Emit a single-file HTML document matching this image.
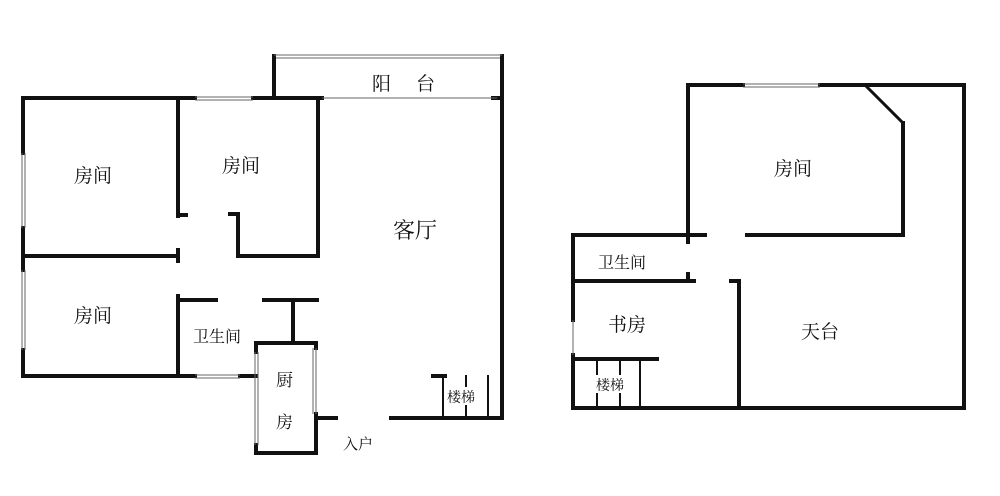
<!DOCTYPE html>
<html><head><meta charset="utf-8"><style>
html,body{margin:0;padding:0;background:#fff;width:1000px;height:496px;overflow:hidden}
svg{display:block}
text{font-family:"Liberation Serif","Noto Serif CJK SC","Noto Sans CJK SC",serif;fill:#111}
</style></head><body>
<svg width="1000" height="496" viewBox="0 0 1000 496">
<g stroke="#111" stroke-width="4" fill="none" stroke-linecap="square">
<line x1="23" y1="98" x2="195" y2="98"/>
<line x1="253" y1="98" x2="322" y2="98"/>
<line x1="274" y1="56" x2="274" y2="98"/>
<line x1="502" y1="56" x2="502" y2="418"/>
<line x1="493" y1="98" x2="502" y2="98"/>
<line x1="23" y1="98" x2="23" y2="153"/>
<line x1="23" y1="228" x2="23" y2="270"/>
<line x1="23" y1="350" x2="23" y2="376"/>
<line x1="178" y1="98" x2="178" y2="216"/>
<line x1="178" y1="215" x2="186" y2="215"/>
<line x1="23" y1="256" x2="178" y2="256"/>
<line x1="178" y1="250" x2="178" y2="261"/>
<line x1="318" y1="98" x2="318" y2="256"/>
<line x1="238" y1="256" x2="318" y2="256"/>
<line x1="238" y1="214" x2="238" y2="256"/>
<line x1="230" y1="214" x2="238" y2="214"/>
<line x1="23" y1="376" x2="195" y2="376"/>
<line x1="240" y1="376" x2="256" y2="376"/>
<line x1="178" y1="296" x2="178" y2="376"/>
<line x1="178" y1="300" x2="216" y2="300"/>
<line x1="264" y1="300" x2="317" y2="300"/>
<line x1="293" y1="300" x2="293" y2="342"/>
<line x1="256" y1="343" x2="316" y2="343"/>
<line x1="256" y1="343" x2="256" y2="352"/>
<line x1="256" y1="445" x2="256" y2="453"/>
<line x1="256" y1="453" x2="316" y2="453"/>
<line x1="316" y1="343" x2="316" y2="348"/>
<line x1="316" y1="414" x2="316" y2="453"/>
<line x1="316" y1="418" x2="336" y2="418"/>
<line x1="391" y1="418" x2="502" y2="418"/>
<line x1="433" y1="376" x2="445" y2="376"/>
<line x1="443" y1="376" x2="443" y2="418" stroke-width="2"/>
<line x1="466" y1="376" x2="466" y2="418" stroke-width="2"/>
<line x1="488" y1="376" x2="488" y2="418" stroke-width="2"/>
<line x1="688" y1="85" x2="688" y2="242"/>
<line x1="688" y1="85" x2="743" y2="85"/>
<line x1="820" y1="85" x2="964" y2="85"/>
<line x1="865" y1="85" x2="903" y2="123" stroke-width="3"/>
<line x1="903" y1="123" x2="903" y2="235"/>
<line x1="747" y1="235" x2="903" y2="235"/>
<line x1="573" y1="235" x2="705" y2="235"/>
<line x1="964" y1="85" x2="964" y2="408"/>
<line x1="573" y1="408" x2="964" y2="408"/>
<line x1="573" y1="235" x2="573" y2="320"/>
<line x1="573" y1="355" x2="573" y2="408"/>
<line x1="573" y1="281" x2="694" y2="281"/>
<line x1="688" y1="274" x2="688" y2="281"/>
<line x1="739" y1="281" x2="739" y2="408"/>
<line x1="731" y1="281" x2="739" y2="281"/>
<line x1="573" y1="359" x2="657" y2="359"/>
<line x1="597" y1="359" x2="597" y2="408" stroke-width="2"/>
<line x1="620" y1="359" x2="620" y2="408" stroke-width="2"/>
<line x1="640" y1="359" x2="640" y2="408" stroke-width="2"/>
</g>
<g stroke="#666" stroke-width="1" fill="none">
<line x1="195" y1="97" x2="253" y2="97"/><line x1="195" y1="100" x2="253" y2="100"/>
<line x1="274" y1="55" x2="502" y2="55"/><line x1="276" y1="58" x2="500" y2="58"/>
<line x1="322" y1="98" x2="497" y2="98"/>
<line x1="22" y1="153" x2="22" y2="228"/><line x1="25" y1="153" x2="25" y2="228"/>
<line x1="22" y1="270" x2="22" y2="350"/><line x1="25" y1="270" x2="25" y2="350"/>
<line x1="195" y1="375" x2="240" y2="375"/><line x1="195" y1="378" x2="240" y2="378"/>
<line x1="255" y1="352" x2="255" y2="445"/><line x1="258" y1="352" x2="258" y2="445"/>
<line x1="313" y1="348" x2="313" y2="414"/><line x1="316" y1="348" x2="316" y2="414"/>
<line x1="743" y1="84" x2="820" y2="84"/><line x1="743" y1="87" x2="820" y2="87"/>
<line x1="573" y1="320" x2="573" y2="355"/>
</g>
<rect x="445" y="387" width="32" height="18" fill="#fff"/>
<rect x="595" y="375" width="30" height="18" fill="#fff"/>
<g font-size="19">
<text x="74" y="182">房间</text>
<text x="222" y="172">房间</text>
<text x="74" y="322">房间</text>
<text x="393" y="238" font-size="22">客厅</text>
<text x="372" y="90">阳</text><text x="416" y="90">台</text>
<text x="193" y="342" font-size="16">卫生间</text>
<text x="276" y="386" font-size="17">厨</text>
<text x="276" y="428" font-size="17">房</text>
<text x="343" y="449" font-size="15">入户</text>
<text x="447" y="402" font-size="14">楼梯</text>
<text x="596" y="390" font-size="14">楼梯</text>
<text x="774" y="175">房间</text>
<text x="598" y="268" font-size="16">卫生间</text>
<text x="608" y="331">书房</text>
<text x="801" y="338">天台</text>
</g>
</svg>
</body></html>
